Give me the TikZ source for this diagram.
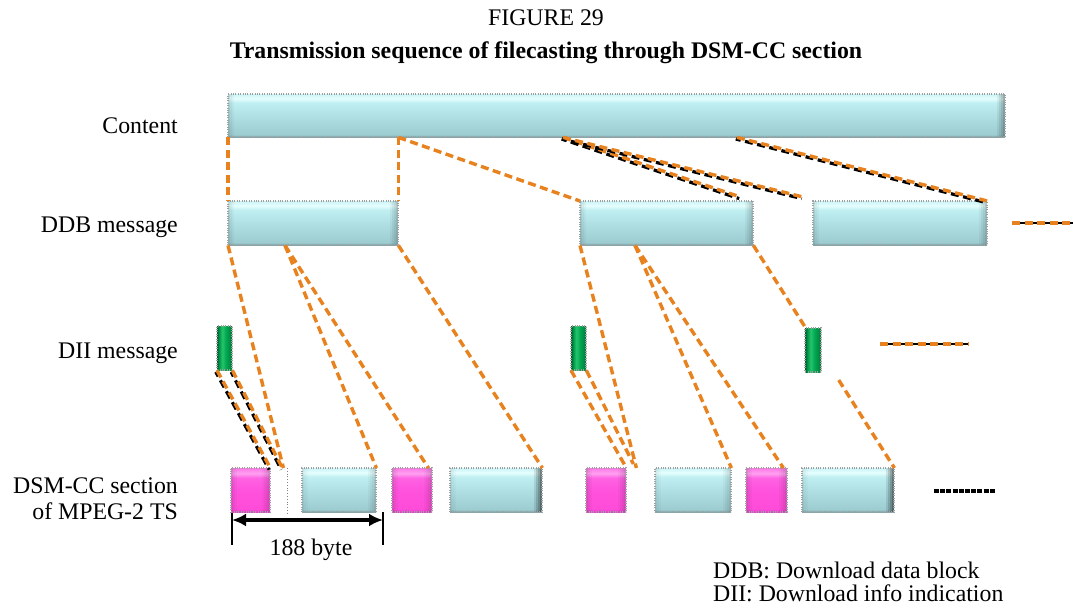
\documentclass[tikz,border=0pt]{standalone}
\usepackage{fontspec}
\setmainfont{Liberation Serif}
\usetikzlibrary{calc,arrows.meta}

% palette
\definecolor{orangeline}{HTML}{E8821E}
\definecolor{cyA}{HTML}{7AA6AB}
\definecolor{cyB}{HTML}{9CCBD0}
\definecolor{cyC}{HTML}{B0E0E4}
\definecolor{cyD}{HTML}{C0EFF2}
\definecolor{cyE}{HTML}{E6FEFE}
\definecolor{cyF}{HTML}{CBF4F6}
\definecolor{pkA}{HTML}{E040C8}
\definecolor{pkB}{HTML}{FF4CD9}
\definecolor{pkC}{HTML}{FF52DD}
\definecolor{pkD}{HTML}{FF62E3}
\definecolor{pkE}{HTML}{FFA0F0}
\definecolor{pkF}{HTML}{FF7AE8}
\definecolor{gnA}{HTML}{005F2D}
\definecolor{gnB}{HTML}{009A48}
\definecolor{gnC}{HTML}{25C46C}
\definecolor{gnD}{HTML}{00A650}
\definecolor{gnE}{HTML}{008A42}

% glossy fills (stops live in the central 25bp..75bp band)
\pgfdeclareverticalshading{cyanglass}{100bp}{color(0bp)=(cyA); color(25bp)=(cyA); color(28bp)=(cyB); color(50bp)=(cyC); color(65bp)=(cyD); color(70bp)=(cyE); color(75bp)=(cyF); color(100bp)=(cyF)}
\pgfdeclareverticalshading{pinkglass}{100bp}{color(0bp)=(pkA); color(25bp)=(pkA); color(29bp)=(pkB); color(50bp)=(pkC); color(64bp)=(pkD); color(69bp)=(pkE); color(75bp)=(pkF); color(100bp)=(pkF)}
\pgfdeclarehorizontalshading{greenglass}{100bp}{color(0bp)=(gnA); color(25bp)=(gnA); color(32bp)=(gnB); color(42bp)=(gnC); color(55bp)=(gnD); color(68bp)=(gnE); color(75bp)=(gnA); color(100bp)=(gnA)}

\tikzset{
  fringe/.style={postaction={draw=gray!75, line width=1.8pt, dash pattern=on 1pt off 1.4pt}},
  % soft darkening of the side edges, built from thin translucent strips
  bevel/.style 2 args={path picture={
      \coordinate (bbSW) at (path picture bounding box.south west);
      \coordinate (bbNW) at (path picture bounding box.north west);
      \coordinate (bbSE) at (path picture bounding box.south east);
      \coordinate (bbNE) at (path picture bounding box.north east);
      \foreach \k/\f in {0/1, 1/0.55, 2/0.25} {
        \pgfmathsetmacro\op{#1*\f}
        \fill[black, fill opacity=\op] ($(bbSW)+(2*\k,0)$) rectangle ($(bbNW)+(2*\k+2,0)$);
      }
      \foreach \k/\f in {0/1, 1/0.7, 2/0.45, 3/0.2} {
        \pgfmathsetmacro\op{#2*\f}
        \fill[black, fill opacity=\op] ($(bbSE)+(-2*\k,0)$) rectangle ($(bbNE)+(-2*\k-2,0)$);
      }
  }},
  cyanblock/.style={shading=cyanglass, inner sep=0pt, fringe},
  pinkblock/.style={shading=pinkglass, inner sep=0pt, fringe, bevel={.12}{.15}},
  greenblock/.style={shading=greenglass, inner sep=0pt, fringe},
  cd/.style={draw=orangeline, line width=3.4pt, dash pattern=on 8pt off 4.5pt},
  cdblack/.style={draw=black, line width=3.2pt, dash pattern=on 8pt off 4.5pt, dash phase=3pt},
  label/.style={font=\fontsize{23.8}{26}\selectfont, inner sep=0pt},
  dimarrow/.style={line width=3.6pt, {Latex[length=14pt,width=13pt]}-{Latex[length=14pt,width=13pt]}}
}

% a block given by its top-left and bottom-right corners
\newcommand\placeblock[6]{\node[#1, anchor=north west, minimum width={(#5-#3)*1pt}, minimum height={(#6-#4)*1pt}] (#2) at (#3,#4) {};}
% orange dashed link with a dark dashed shadow
\newcommand\shadowlink[2]{%
  \draw[cdblack, transform canvas={shift={(-1.2,1.6)}}] #1 -- #2;
  \draw[cd] #1 -- #2;}

\begin{document}
\begin{tikzpicture}[x=1pt, y=-1pt]
\useasboundingbox (0,0) rectangle (1073,608);
\fill[white] (0,0) rectangle (1073,608);

% headings
\node[label, anchor=base] (fig) at (546,25) {FIGURE 29};
\node[label, anchor=base, font=\fontsize{23.8}{26}\selectfont\bfseries] (title) at (546,58) {Transmission sequence of filecasting through DSM-CC section};

% row labels
\node[label, anchor=base east] (lcontent) at (178,133) {Content};
\node[label, anchor=base east] (lddb) at (178,232) {DDB message};
\node[label, anchor=base east] (ldii) at (178,358) {DII message};
\node[label, anchor=base east] (ldsmA) at (178,493) {DSM-CC section};
\node[label, anchor=base east] (ldsmB) at (178,519) {of MPEG-2 TS};

% content
\placeblock{cyanblock, bevel={.12}{.3}}{content}{228}{94}{1005}{137}

% DDB messages
\placeblock{cyanblock, bevel={.12}{.2}}{ddb1}{228}{201}{398}{245}
\placeblock{cyanblock, bevel={.12}{.2}}{ddb2}{580}{201}{753}{245}
\placeblock{cyanblock, bevel={.12}{.2}}{ddb3}{813}{201}{987}{245}

% DII messages
\placeblock{greenblock}{dii1}{217}{326}{232}{370}
\placeblock{greenblock}{dii2}{571}{326}{586}{370}
\placeblock{greenblock}{dii3}{805}{328}{821}{372}

% DSM-CC sections
\placeblock{pinkblock}{p1}{231}{468}{270}{512}
\placeblock{cyanblock, bevel={.08}{.15}}{c1}{302}{468}{376}{512}
\placeblock{pinkblock}{p2}{392}{468}{432}{512}
\placeblock{cyanblock, bevel={.08}{.5}}{c2}{450}{468}{542}{512}
\placeblock{pinkblock}{p3}{586}{468}{626}{512}
\placeblock{cyanblock, bevel={.08}{.15}}{c3}{655}{468}{731}{512}
\placeblock{pinkblock}{p4}{746}{468}{787}{512}
\placeblock{cyanblock, bevel={.08}{.5}}{c4}{802}{468}{894}{512}

% empty slot after the first DII section
\draw[gray, dotted, line width=0.8pt] ($(p1.north east)+(17,0)$) -- ($(p1.south east)+(17,2)$);

% content -> DDB
\draw[cd] (content.south west) -- (ddb1.north west);
\draw[cd] (ddb1.north east |- content.south) -- (ddb1.north east);
\draw[cd] (ddb1.north east |- content.south) -- (ddb2.north west);
\coordinate (cA) at ($(content.south west)+(335,0)$);
\coordinate (cB) at ($(content.south west)+(509,0)$);
\shadowlink{(cA)}{($(ddb2.north east)+(-13,-4)$)}
\shadowlink{(cA)}{($(ddb3.north west)+(-10,-4)$)}
\shadowlink{(cB)}{(ddb3.north east)}

% DDB -> DSM-CC sections
\coordinate (dA) at ($(ddb1.south west)+(57,0)$);
\coordinate (dB) at ($(ddb2.south west)+(55,0)$);
\draw[cd] (ddb1.south west) -- ($(p1.north east)+(13,0)$);
\draw[cd] (dA) -- (c1.north east);
\draw[cd] (dA) -- ($(p2.north east)+(-4,0)$);
\draw[cd] (ddb1.south east) -- (c2.north east);
\draw[cd] (ddb2.south west) -- ($(p3.north east)+(10,0)$);
\draw[cd] (dB) -- (c3.north east);
\draw[cd] (dB) -- ($(p4.north east)+(-4,0)$);
\draw[cd] (ddb2.south east) -- ($(ddb2.south east)!0.368!(c4.north east)$);
\draw[cd] ($(ddb2.south east)!0.605!(c4.north east)$) -- (c4.north east);

% DII -> DSM-CC sections
\shadowlink{(dii1.south west)}{(p1.north east)}
\shadowlink{(dii1.south east)}{($(p1.north east)+(12,0)$)}
\draw[cd] (dii2.south west) -- (p3.north east);
\draw[cd] (dii2.south east) -- ($(p3.north east)+(7,-4)$);

% continuation marks at the row ends
\coordinate (ddbtailA) at (1012,223);
\coordinate (ddbtailB) at (1073,223);
\coordinate (diitailA) at (880,344);
\coordinate (diitailB) at (969,344);
\coordinate (dsmtailA) at (934,491);
\coordinate (dsmtailB) at (995,491);
\draw[black, line width=2.8pt] (ddbtailA) -- (ddbtailB);
\draw[cd] (ddbtailA) -- (ddbtailB);
\draw[black, line width=2.8pt] (diitailA) -- (diitailB);
\draw[cd] (diitailA) -- (diitailB);
\draw[black, line width=3.6pt, dash pattern=on 5pt off 1.2pt] (dsmtailA) -- (dsmtailB);

% packet length
\coordinate (dimL) at (232,513);
\coordinate (dimR) at (383,512);
\draw[line width=2pt] (dimL) -- (232,545);
\draw[line width=2pt] (dimR) -- (383,545);
\draw[dimarrow] ($(dimL)+(0,7)$) -- ($(dimR)+(0,8)$);
\node[label, anchor=base] (bytes) at (311,555) {188 byte};

% legend
\node[label, anchor=base west] (legA) at (713,578) {DDB: Download data block};
\node[label, anchor=base west] (legB) at (713,601) {DII: Download info indication};
\end{tikzpicture}
\end{document}
